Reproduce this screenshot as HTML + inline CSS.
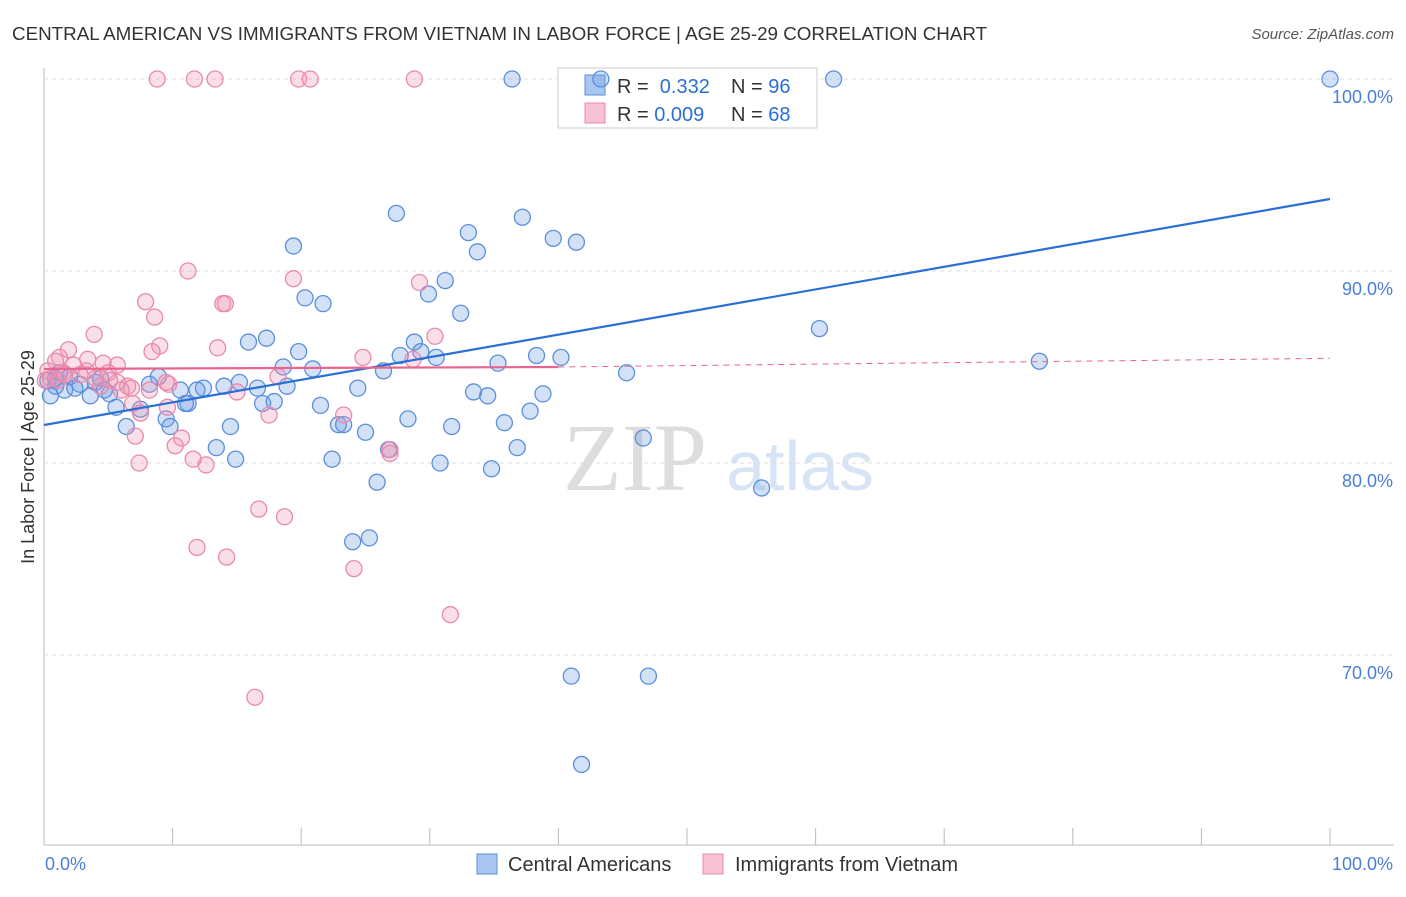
<!DOCTYPE html>
<html><head><meta charset="utf-8"><style>
body{margin:0;background:#fff;font-family:"Liberation Sans",sans-serif;}
</style></head><body>
<svg id="chart" width="1406" height="892" xmlns="http://www.w3.org/2000/svg">
<text x="12" y="40" font-size="18.8" fill="#333">CENTRAL AMERICAN VS IMMIGRANTS FROM VIETNAM IN LABOR FORCE | AGE 25-29 CORRELATION CHART</text>
<text x="1394" y="39" font-size="15" fill="#555" font-style="italic" text-anchor="end">Source: ZipAtlas.com</text>
<text x="635" y="490" font-size="96" fill="#ddd" font-family="Liberation Serif,serif" text-anchor="middle">ZIP</text>
<text x="800" y="490" font-size="70" fill="#d6e4f5" text-anchor="middle">atlas</text>
<g id="grid"></g>
<g>
<rect x="558" y="68" width="259" height="60" fill="#fff" stroke="#ccc"/>
<rect x="585" y="75" width="20" height="20" fill="#a9c6f0" stroke="#5b8fdc"/>
<rect x="585" y="103" width="20" height="20" fill="#f7c3d4" stroke="#e88aab"/>
<text x="617" y="93" font-size="20" fill="#333">R = <tspan fill="#2a6fd6">&#160;0.332</tspan></text>
<text x="731" y="93" font-size="20" fill="#333">N = <tspan fill="#2a6fd6">96</tspan></text>
<text x="617" y="121" font-size="20" fill="#333">R = <tspan fill="#2a6fd6">0.009</tspan></text>
<text x="731" y="121" font-size="20" fill="#333">N = <tspan fill="#2a6fd6">68</tspan></text>
</g>
<g id="marks"></g><g id="lines"></g>
<text x="34" y="457" font-size="18" fill="#333" text-anchor="middle" transform="rotate(-90 34 457)">In Labor Force | Age 25-29</text>
<text x="45" y="870" font-size="18" fill="#4a7fd4">0.0%</text>
<text x="1393" y="870" font-size="18" fill="#4a7fd4" text-anchor="end">100.0%</text>
<g>
<rect x="477" y="854" width="20" height="20" fill="#a9c6f0" stroke="#5b8fdc"/>
<text x="508" y="871" font-size="20" fill="#333">Central Americans</text>
<rect x="703" y="854" width="20" height="20" fill="#f7c3d4" stroke="#e88aab"/>
<text x="735" y="871" font-size="20" fill="#333">Immigrants from Vietnam</text>
</g>
</svg>
<script>
const yTicks=[100,90,80,70];
const yTickLabels=["100.0%","90.0%","80.0%","70.0%"];
const xTicks=[0,10,20,30,40,50,60,70,80,90,100];
const blueX=[36.4,43.3,61.4,100,27.4,37.2,33.0,39.6,41.4,19.4,33.7,31.2,29.9,20.3,21.7,32.4,60.3,17.3,15.9,28.8,19.8,29.3,27.7,30.5,38.3,40.2,35.3,77.4,18.6,20.9,26.4,45.3,8.9,15.2,14.0,8.2,12.4,10.6,11.9,18.9,16.6,24.4,33.4,34.5,38.8,5.1,3.6,1.6,0.9,0.3,2.8,11.2,11.0,5.6,7.5,21.5,17.0,17.9,28.3,9.5,6.4,9.8,14.5,22.9,23.3,25.0,31.7,35.8,37.8,46.6,13.4,36.8,26.8,14.9,22.4,30.8,34.8,25.9,55.8,24.0,25.3,41.0,47.0,41.8,1.2,2.0,4.4,4.0,4.7,0.5,2.4,0.9];
const blueY=[100,100,100,100,93.0,92.8,92.0,91.7,91.5,91.3,91.0,89.5,88.8,88.6,88.3,87.8,87.0,86.5,86.3,86.3,85.8,85.8,85.6,85.5,85.6,85.5,85.2,85.3,85.0,84.9,84.8,84.7,84.5,84.2,84.0,84.1,83.9,83.8,83.8,84.0,83.9,83.9,83.7,83.5,83.6,83.6,83.5,83.8,84.0,84.3,84.1,83.1,83.1,82.9,82.8,83.0,83.1,83.2,82.3,82.3,81.9,81.9,81.9,82.0,82.0,81.6,81.9,82.1,82.7,81.3,80.8,80.8,80.7,80.2,80.2,80.0,79.7,79.0,78.7,75.9,76.1,68.9,68.9,64.3,84.7,84.5,84.4,84.2,83.8,83.5,83.9,84.4];
const pinkX=[8.8,11.7,13.3,19.8,20.7,28.8,11.2,19.4,29.2,7.9,13.9,14.1,8.6,3.9,30.4,9.0,13.5,8.4,1.9,3.4,24.8,28.7,1.2,0.9,4.6,5.7,2.3,3.3,5.0,0.3,1.5,2.8,4.0,5.7,6.5,6.8,6.0,9.7,8.2,9.5,15.0,18.2,6.9,9.6,7.5,17.5,23.3,10.7,7.1,10.2,11.6,12.6,7.4,26.9,26.9,16.7,18.7,11.9,14.2,24.1,31.6,16.4,0.5,0.1,1.1,5.1,4.4,1.6];
const pinkY=[100,100,100,100,100,100,90.0,89.6,89.4,88.4,88.3,88.3,87.6,86.7,86.6,86.1,86.0,85.8,85.9,85.4,85.5,85.4,85.5,85.3,85.2,85.1,85.1,84.8,84.7,84.8,84.7,84.6,84.4,84.2,84.0,83.9,83.8,84.1,83.8,84.2,83.7,84.5,83.1,82.9,82.6,82.5,82.5,81.3,81.4,80.9,80.2,79.9,80.0,80.7,80.5,77.6,77.2,75.6,75.1,74.5,72.1,67.8,84.4,84.3,84.3,84.3,84.0,84.6];
const blueTrend=[81.98,93.75];
const pinkTrend=[84.9,85.0,85.45];
const sx=v=>44+v*12.86;
const sy=v=>79+(100-v)*19.2;
const NS="http://www.w3.org/2000/svg";
function mk(tag,attrs,parent){const e=document.createElementNS(NS,tag);for(const k in attrs)e.setAttribute(k,attrs[k]);document.getElementById(parent).appendChild(e);return e;}
let ax=mk('line',{x1:44,y1:68,x2:44,y2:845,stroke:'#bbb'},'grid');


let bx=mk('line',{x1:44,y1:845,x2:1394,y2:845,stroke:'#bbb'},'grid');


yTicks.forEach((t,i)=>{
 const g=mk('line',{x1:44,y1:sy(t),x2:1394,y2:sy(t),stroke:'#ddd','stroke-dasharray':'4,4'},'grid');
 
 
 const l=mk('text',{x:1393,y:sy(t)+24,'font-size':18,fill:'#4a7fd4','text-anchor':'end'},'grid');
 l.textContent=yTickLabels[i];
 
 
});
xTicks.forEach(t=>{
 const k=mk('line',{x1:sx(t),y1:828,x2:sx(t),y2:845,stroke:'#bbb'},'grid');
 
 
});
blueX.forEach((x,i)=>{
 const c=mk('circle',{cx:sx(x),cy:sy(blueY[i]),r:8,fill:'rgba(110,155,230,0.3)',stroke:'#5b8fdc','stroke-width':1.3},'marks');
 
 
});
pinkX.forEach((x,i)=>{
 const c=mk('circle',{cx:sx(x),cy:sy(pinkY[i]),r:8,fill:'rgba(240,150,180,0.3)',stroke:'#e88aab','stroke-width':1.3},'marks');
 
 
});
const bt=mk('line',{x1:sx(0),y1:sy(blueTrend[0]),x2:sx(100),y2:sy(blueTrend[1]),stroke:'#2a6fd6','stroke-width':2.2},'lines');


const pt=mk('line',{x1:sx(0),y1:sy(pinkTrend[0]),x2:sx(40),y2:sy(pinkTrend[1]),stroke:'#e8648f','stroke-width':2.2},'lines');


const pd=mk('line',{x1:sx(40),y1:sy(pinkTrend[1]),x2:sx(100),y2:sy(pinkTrend[2]),stroke:'#e8648f','stroke-width':1,'stroke-dasharray':'6,5'},'lines');


</script>
</body></html>
